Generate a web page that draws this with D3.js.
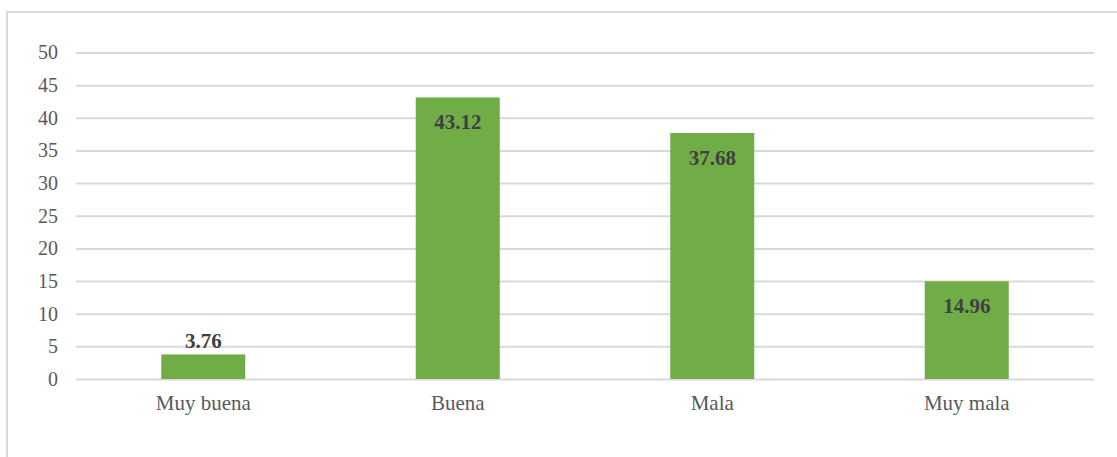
<!DOCTYPE html>
<html>
<head>
<meta charset="utf-8">
<script src="https://cdn.jsdelivr.net/npm/d3@7"></script>
<style>
body{margin:0;background:#fff}
svg{display:block}
</style>
</head>
<body>
<svg id="chart"></svg>
<script>
var categories=["Muy buena","Buena","Mala","Muy mala"]
var values=[3.76,43.12,37.68,14.96]
var valueLabels=["3.76","43.12","37.68","14.96"]
var yTicks=[0,5,10,15,20,25,30,35,40,45,50]

var width=1117,height=457
var plotLeft=76,plotRight=1094,plotTop=52.5,plotBottom=379
var font="'Liberation Serif','Times New Roman',serif"

var svg=d3.select("#chart")
.attr("width",width)
.attr("height",height)

// outer frame of the chart area
svg.append("path")
.attr("d","M7,"+(height+2)+"V12H"+(width+2))
.attr("fill","none")
.attr("stroke","#d9d9d9")
.attr("stroke-width",2)

var xScale=d3.scaleBand()
.domain(categories)
.range([plotLeft,plotRight])
.paddingInner(0.67)
.paddingOuter(0.335)

var yScale=d3.scaleLinear()
.domain([0,50])
.range([plotBottom,plotTop])

var yAxis=d3.axisLeft(yScale)
.tickValues(yTicks)
.tickSize(-(plotRight-plotLeft))
.tickPadding(18)

var gy=svg.append("g")
.attr("transform","translate("+plotLeft+",0)")
.call(yAxis)
gy.select(".domain").remove()
gy.selectAll(".tick line")
.attr("stroke","#d9d9d9")
.attr("stroke-width",2)
gy.selectAll(".tick text")
.attr("fill","#595959")
.style("font-family",font)
.style("font-size","20px")

svg.selectAll(".bar")
.data(values)
.enter()
.append("rect")
.classed("bar",true)
.attr("x",(d,i)=>xScale(categories[i]))
.attr("y",d=>yScale(d))
.attr("width",xScale.bandwidth())
.attr("height",d=>plotBottom-yScale(d))
.attr("fill","#70ad47")

svg.selectAll(".val")
.data(values)
.enter()
.append("text")
.classed("val",true)
.attr("x",(d,i)=>xScale(categories[i])+xScale.bandwidth()/2)
.attr("y",d=>d<10?yScale(d)-6:yScale(d)+32)
.attr("text-anchor","middle")
.attr("fill","#404040")
.style("font-family",font)
.style("font-weight","bold")
.style("font-size","21px")
.text((d,i)=>valueLabels[i])

var xAxis=d3.axisBottom(xScale)
.tickSize(0)
.tickPadding(16)

var gx=svg.append("g")
.attr("transform","translate(0,"+plotBottom+")")
.call(xAxis)
gx.select(".domain").remove()
gx.selectAll(".tick text")
.attr("fill","#595959")
.style("font-family",font)
.style("font-size","21px")
</script>
</body>
</html>
